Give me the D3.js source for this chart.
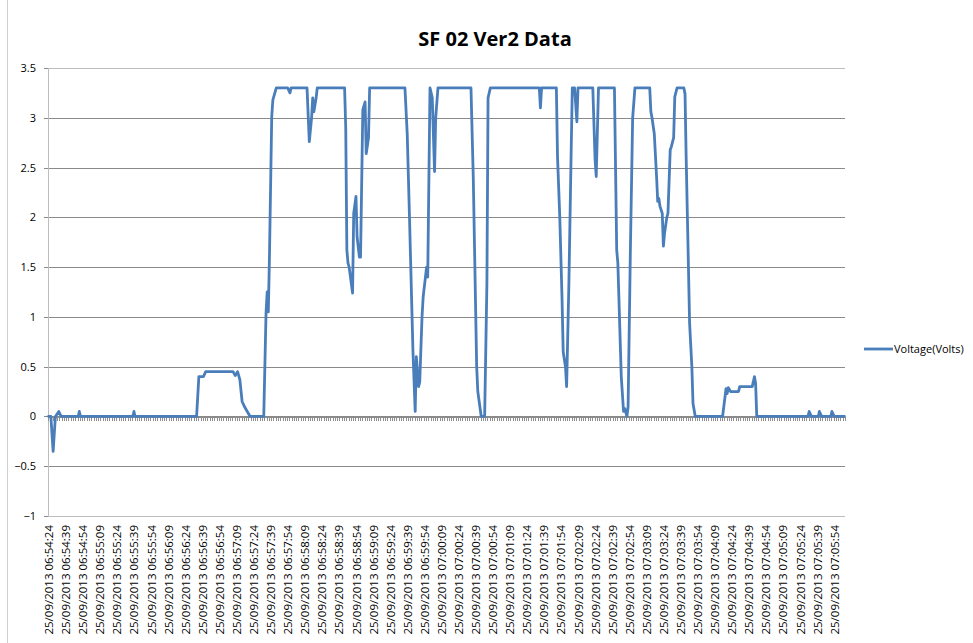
<!DOCTYPE html>
<html>
<head>
<meta charset="utf-8">
<script src="https://cdn.jsdelivr.net/npm/d3@7"></script>
<style>
  body { margin: 0; background: #fff; }
  text { font-family: "Open Sans", "Liberation Sans", sans-serif; }
</style>
</head>
<body>
<div id="chart"></div>
<script>
// chart data: seconds after 25/09/2013 06:54:24, and voltage read at that second
var offsets = [
  0, 2, 4, 6, 9, 11,
  26, 27, 28,
  74, 75, 76,
  130, 132, 136, 138, 162, 164, 166, 168, 170, 172, 175, 177,
  189, 191, 192, 193, 194, 196, 197, 200,
  210, 212, 213,
  227, 229, 231, 232, 233, 235, 236,
  260, 261, 262, 263, 264, 267, 268, 270, 271, 273, 274, 276, 278, 279, 281, 282,
  313, 315, 317, 320, 322, 323, 325, 326, 328, 329, 331, 332, 333, 335, 337, 339, 340, 342,
  371, 373, 376, 377, 380, 383, 385, 386, 388,
  431, 432, 433,
  446, 447, 449, 451, 452, 454, 455, 457, 459, 460, 462, 464, 465,
  478, 480, 481, 483,
  497, 499, 500, 503, 505, 506, 508, 509, 511, 513, 515,
  528, 529, 530, 532, 534, 535, 536, 537, 539, 540, 541, 543, 544, 546, 547, 549, 550, 552,
  558, 559, 560, 562, 563, 565, 566, 568,
  592, 595, 596, 597, 599, 606, 607, 618, 620, 621, 622,
  667, 668, 670,
  676, 677, 679,
  687, 688, 690,
  699
];
var voltage = [
  0, 0, -0.35, 0, 0.05, 0,
  0, 0.05, 0,
  0, 0.05, 0,
  0, 0.4, 0.4, 0.45, 0.45, 0.41, 0.45, 0.37, 0.15, 0.1, 0.04, 0,
  0, 1.04, 1.25, 1.05, 1.6, 3.01, 3.18, 3.3,
  3.3, 3.25, 3.3,
  3.3, 2.76, 3.0, 3.2, 3.06, 3.2, 3.3,
  3.3, 2.9, 1.67, 1.54, 1.5, 1.24, 2.04, 2.21, 1.8, 1.6, 1.6, 3.08, 3.16, 2.64, 2.8, 3.3,
  3.3, 2.84, 2.0, 0.67, 0.05, 0.6, 0.3, 0.35, 1.0, 1.2, 1.4, 1.5, 1.4, 3.3, 3.2, 2.46, 3.0, 3.3,
  3.3, 2.41, 0.5, 0.25, 0, 0, 1.34, 3.2, 3.3,
  3.3, 3.1, 3.3,
  3.3, 2.61, 2.0, 1.17, 0.65, 0.5, 0.3, 1.34, 2.67, 3.3, 3.3, 2.96, 3.3,
  3.3, 2.58, 2.41, 3.3,
  3.3, 1.67, 1.54, 0.4, 0.05, 0.08, 0, 0.1, 1.67, 3.0, 3.3,
  3.3, 3.06, 3.0, 2.84, 2.41, 2.16, 2.19, 2.11, 2.04, 1.71, 1.84, 2.0, 2.04, 2.68, 2.71, 2.8, 3.21, 3.3,
  3.3, 3.24, 2.6, 1.5, 0.94, 0.5, 0.13, 0,
  0, 0.28, 0.23, 0.29, 0.25, 0.25, 0.3, 0.3, 0.4, 0.33, 0,
  0, 0.05, 0,
  0, 0.05, 0,
  0, 0.05, 0,
  0
];
var categoryCount = 700;
var labelStep = 15;
var tickLabels = [
  "25/09/2013 06:54:24", "25/09/2013 06:54:39", "25/09/2013 06:54:54",
  "25/09/2013 06:55:09", "25/09/2013 06:55:24", "25/09/2013 06:55:39", "25/09/2013 06:55:54",
  "25/09/2013 06:56:09", "25/09/2013 06:56:24", "25/09/2013 06:56:39", "25/09/2013 06:56:54",
  "25/09/2013 06:57:09", "25/09/2013 06:57:24", "25/09/2013 06:57:39", "25/09/2013 06:57:54",
  "25/09/2013 06:58:09", "25/09/2013 06:58:24", "25/09/2013 06:58:39", "25/09/2013 06:58:54",
  "25/09/2013 06:59:09", "25/09/2013 06:59:24", "25/09/2013 06:59:39", "25/09/2013 06:59:54",
  "25/09/2013 07:00:09", "25/09/2013 07:00:24", "25/09/2013 07:00:39", "25/09/2013 07:00:54",
  "25/09/2013 07:01:09", "25/09/2013 07:01:24", "25/09/2013 07:01:39", "25/09/2013 07:01:54",
  "25/09/2013 07:02:09", "25/09/2013 07:02:24", "25/09/2013 07:02:39", "25/09/2013 07:02:54",
  "25/09/2013 07:03:09", "25/09/2013 07:03:24", "25/09/2013 07:03:39", "25/09/2013 07:03:54",
  "25/09/2013 07:04:09", "25/09/2013 07:04:24", "25/09/2013 07:04:39", "25/09/2013 07:04:54",
  "25/09/2013 07:05:09", "25/09/2013 07:05:24", "25/09/2013 07:05:39", "25/09/2013 07:05:54"
];
var yTicks = [-1, -0.5, 0, 0.5, 1, 1.5, 2, 2.5, 3, 3.5];
var seriesName = "Voltage(Volts)";
var chartTitle = "SF 02 Ver2 Data";

var svgWidth = 973;
var svgHeight = 643;
var plot = { left: 48, right: 845, top: 68, bottom: 516 };
var lineColor = "#4a7ebb";

var svg = d3.select("#chart")
    .append("svg")
    .attr("width", svgWidth)
    .attr("height", svgHeight);

svg.append("rect")
    .attr("width", svgWidth)
    .attr("height", svgHeight)
    .attr("fill", "#fff");

// chart area border on the left
svg.append("line")
    .attr("x1", 7.5).attr("x2", 7.5)
    .attr("y1", 0).attr("y2", svgHeight)
    .attr("stroke", "#d0d0d0");

var xScale = d3.scaleLinear()
    .domain([-0.5, categoryCount - 0.5])
    .range([plot.left, plot.right]);

var yScale = d3.scaleLinear()
    .domain([-1, 3.5])
    .range([plot.bottom, plot.top]);

// gridlines
var grid = svg.append("g")
    .attr("transform", `translate(${plot.left},0)`)
    .call(d3.axisLeft(yScale).tickValues(yTicks).tickSize(-(plot.right - plot.left)).tickFormat(""));
grid.select(".domain").remove();
grid.selectAll(".tick line")
    .attr("stroke", d => (d === 3.5 || d === -1) ? "#bdbdbd" : "#8a8a8a")
    .attr("shape-rendering", "crispEdges");

// y axis with labels
var yAxis = svg.append("g")
    .attr("transform", `translate(${plot.left},0)`)
    .call(d3.axisLeft(yScale).tickValues(yTicks).tickSize(4).tickPadding(8).tickFormat(d3.format("")));
yAxis.select(".domain")
    .attr("stroke", "#bdbdbd")
    .attr("shape-rendering", "crispEdges");
yAxis.selectAll(".tick line").attr("stroke", "#8a8a8a").attr("shape-rendering", "crispEdges");
yAxis.selectAll(".tick text")
    .attr("font-size", "11px")
    .attr("fill", "#000");

// category axis crossing at zero, with its tick marks
var tickMarks = d3.range(-0.5, categoryCount, 2);
var zeroAxis = svg.append("g")
    .attr("transform", `translate(0,${Math.round(yScale(0)) + 0.5})`)
    .call(d3.axisBottom(xScale).tickValues(tickMarks).tickSize(4).tickSizeOuter(0).tickFormat(""));
zeroAxis.select(".domain").attr("stroke", "#8a8a8a").attr("shape-rendering", "crispEdges");
zeroAxis.selectAll(".tick line").attr("stroke", "#8f8f8f").attr("shape-rendering", "crispEdges");

// rotated time labels along the bottom
var labelIndex = tickLabels.map((d, i) => i * labelStep);
var labelAxis = svg.append("g")
    .attr("transform", `translate(0,${plot.bottom})`)
    .call(d3.axisBottom(xScale).tickValues(labelIndex).tickSize(0)
        .tickFormat((d, i) => tickLabels[i]));
labelAxis.select(".domain").remove();
labelAxis.selectAll(".tick text")
    .attr("transform", "rotate(-90)")
    .attr("text-anchor", "end")
    .attr("x", -9)
    .attr("y", 0)
    .attr("dy", "0.35em")
    .attr("font-size", "11.5px")
    .attr("fill", "#000");

// voltage line
var readings = offsets.map((d, i) => ({ t: d, v: voltage[i] }));
var line = d3.line()
    .x(d => xScale(d.t))
    .y(d => yScale(d.v));

svg.append("path")
    .datum(readings)
    .attr("fill", "none")
    .attr("stroke", lineColor)
    .attr("stroke-width", 2.8)
    .attr("stroke-linejoin", "round")
    .attr("stroke-linecap", "round")
    .attr("d", line);

// title
svg.append("text")
    .attr("x", 495)
    .attr("y", 46)
    .attr("text-anchor", "middle")
    .attr("font-size", "20px")
    .attr("font-weight", "bold")
    .text(chartTitle);

// legend
var legend = svg.append("g").attr("transform", "translate(864,349)");
legend.append("line")
    .attr("x1", 0).attr("x2", 29)
    .attr("stroke", lineColor)
    .attr("stroke-width", 2.8);
legend.append("text")
    .attr("x", 30)
    .attr("dy", "0.35em")
    .attr("font-size", "11px")
    .text(seriesName);
</script>
</body>
</html>
